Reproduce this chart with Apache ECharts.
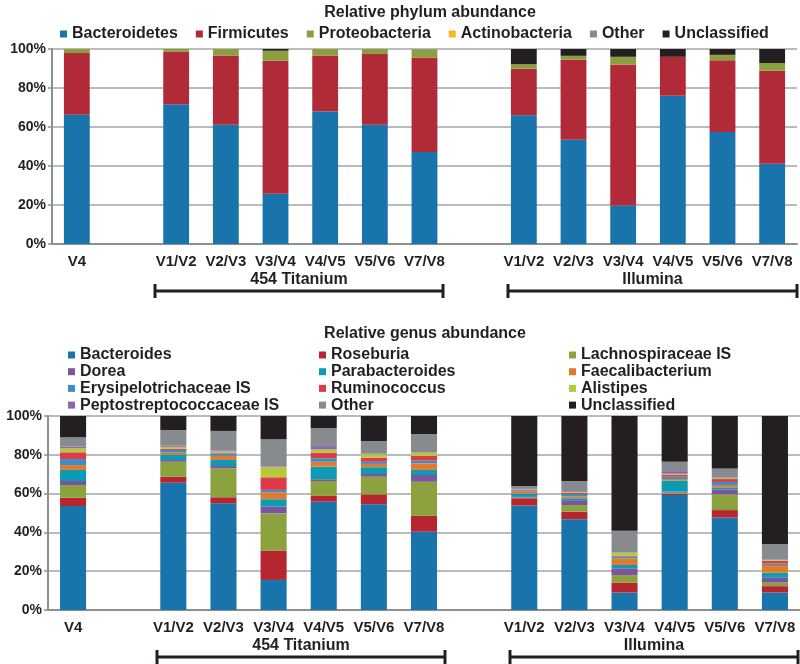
<!DOCTYPE html>
<html>
<head>
<meta charset="utf-8">
<script src="https://cdn.jsdelivr.net/npm/echarts@6/dist/echarts.min.js"></script>
<style>
  html, body { margin: 0; padding: 0; background: #fff; }
  #chart { width: 800px; height: 664px; }
</style>
</head>
<body>
<div id="chart"></div>
<script>
// x slots: V4, gap, 454 Titanium (6), gap, Illumina (6)
var slotLabels = ['V4', '', 'V1/V2', 'V2/V3', 'V3/V4', 'V4/V5', 'V5/V6', 'V7/V8', '',
                  'V1/V2', 'V2/V3', 'V3/V4', 'V4/V5', 'V5/V6', 'V7/V8'];
var gapSlots = [1, 8];
var yTicks = [0, 20, 40, 60, 80, 100];

// phylum (%), 13 samples: V4, Titanium x6, Illumina x6
var phylumNames = ['Bacteroidetes', 'Firmicutes', 'Proteobacteria', 'Actinobacteria', 'Other', 'Unclassified'];
var bacteroidetes  = [66.3, 71.7, 61.2, 25.8, 68.0, 61.2, 47.2, 66.0, 53.4, 19.8, 76.0, 57.4, 41.2];
var firmicutes     = [31.6, 26.8, 35.5, 68.2, 28.7, 36.2, 48.5, 23.9, 41.1, 72.3, 20.0, 36.8, 47.7];
var proteobacteria = [2.1, 1.5, 3.3, 5.1, 3.3, 2.6, 4.0, 2.3, 2.0, 3.9, 0, 2.8, 3.9];
var actinobacteria = [0, 0, 0, 0, 0, 0, 0, 0, 0, 0, 0, 0, 0];
var otherP         = [0, 0, 0, 0, 0, 0, 0.3, 0, 0, 0, 0, 0, 0];
var unclassifiedP  = [0, 0, 0, 0.9, 0, 0, 0, 7.8, 3.5, 4.0, 4.0, 3.0, 7.2];

// genus (%)
var genusNames = ['Bacteroides', 'Roseburia', 'Lachnospiraceae IS', 'Dorea', 'Parabacteroides',
  'Faecalibacterium', 'Erysipelotrichaceae IS', 'Ruminococcus', 'Alistipes',
  'Peptostreptococcaceae IS', 'Other', 'Unclassified'];
var bacteroides  = [53.6, 65.6, 55.0, 15.5, 55.8, 54.5, 40.4, 53.8, 46.8, 9.0, 59.3, 47.6, 9.0];
var roseburia    = [4.3, 3.1, 3.1, 15.1, 3.0, 5.1, 8.1, 3.8, 3.9, 5.1, 0.6, 3.9, 3.3];
var lachno       = [6.5, 7.7, 14.9, 19.2, 7.7, 9.1, 17.6, 0.4, 3.4, 3.9, 0.6, 8.1, 1.8];
var dorea        = [2.1, 0.9, 1.2, 3.5, 0.9, 1.4, 3.5, 0.3, 2.5, 3.5, 0.5, 2.6, 2.5];
var parabact     = [5.7, 2.6, 3.1, 3.8, 6.5, 3.5, 2.6, 1.7, 1.0, 1.7, 5.7, 1.0, 2.6];
var faecali      = [2.5, 1.2, 2.2, 3.6, 2.5, 1.7, 3.4, 1.0, 1.0, 3.4, 0.8, 1.2, 4.0];
var erysipelo    = [3.1, 1.4, 1.2, 1.2, 1.8, 1.1, 1.4, 0.5, 1.2, 0.9, 1.2, 1.6, 0.8];
var ruminococcus = [3.5, 0.6, 0.4, 6.5, 2.9, 2.1, 2.4, 0.4, 0.6, 0.3, 1.0, 1.5, 1.4];
var alistipes    = [2.0, 1.0, 0.6, 5.2, 1.7, 1.8, 1.7, 0.3, 0.5, 1.7, 0.5, 0.4, 0.4];
var pepto        = [0.9, 0.7, 0.4, 0.4, 1.7, 0.3, 0, 0.2, 0.4, 0.2, 1.4, 0.3, 0.3];
var otherG       = [4.8, 7.9, 10.2, 14.0, 9.2, 6.5, 9.6, 1.5, 5.2, 11.2, 4.8, 4.8, 7.9];
var unclassG     = [11.0, 7.3, 7.7, 12.0, 6.3, 12.9, 9.3, 36.1, 33.5, 59.1, 23.6, 27.0, 66.0];

var phylumData = [bacteroidetes, firmicutes, proteobacteria, actinobacteria, otherP, unclassifiedP];
var genusData = [bacteroides, roseburia, lachno, dorea, parabact, faecali, erysipelo,
  ruminococcus, alistipes, pepto, otherG, unclassG];

(function () {
    var txt = '#231f20';
    var axisGray = '#8d8f91';
    var font = 'Liberation Sans, Arial, sans-serif';
    var phylumColors = ['#1874ab', '#b12a37', '#8c9e3e', '#f5b821', '#868b8f', '#231f20'];
    var genusColors = ['#1874ab', '#b5262f', '#8ba23f', '#7a559e', '#0d9ab3', '#e07a2c',
      '#3b8fc6', '#dd3b47', '#b6c93a', '#8a6aad', '#878b8f', '#231f20'];

    // put the 13 samples into the 15 slots
    function toSlots(vals) {
        var out = [], k = 0;
        for (var i = 0; i < slotLabels.length; i++) {
            out.push(gapSlots.indexOf(i) >= 0 ? '-' : vals[k++]);
        }
        return out;
    }

    function xAxis(gridIndex) {
        return {
            type: 'category', gridIndex: gridIndex, data: slotLabels,
            axisLine: { lineStyle: { color: axisGray, width: 2 } },
            axisTick: { interval: 0, length: 5, lineStyle: { color: axisGray, width: 1.5 } },
            axisLabel: { interval: 0, color: txt, fontFamily: font, fontWeight: 'bold', fontSize: 15, margin: 10 }
        };
    }
    function yAxis(gridIndex) {
        return {
            type: 'value', gridIndex: gridIndex, min: yTicks[0], max: yTicks[yTicks.length - 1], interval: 20,
            axisLine: { show: true, lineStyle: { color: axisGray, width: 2 } },
            axisTick: { show: true, length: 4, lineStyle: { color: axisGray, width: 1.5 } },
            splitLine: { lineStyle: { color: '#a3a5a7', width: 1.5 } },
            axisLabel: { formatter: '{value}%', color: txt, fontFamily: font, fontWeight: 'bold', fontSize: 14, margin: 6 }
        };
    }

    var legendText = { color: txt, fontFamily: font, fontWeight: 'bold', fontSize: 16, lineHeight: 16 };
    var legendBase = { icon: 'rect', itemWidth: 7, itemHeight: 7, selectedMode: false, textStyle: legendText };

    var series = [];
    phylumNames.forEach(function (n, i) {
        series.push({
            name: n, type: 'bar', stack: 'phylum', xAxisIndex: 0, yAxisIndex: 0,
            barWidth: '52%', color: phylumColors[i], data: toSlots(phylumData[i])
        });
    });
    genusNames.forEach(function (n, i) {
        series.push({
            name: n, type: 'bar', stack: 'genus', xAxisIndex: 1, yAxisIndex: 1,
            barWidth: '52%', color: genusColors[i], data: toSlots(genusData[i])
        });
    });

    // bracket under a group of bars
    function bracket(x1, x2, y, label) {
        var els = [
            { type: 'line', shape: { x1: x1, y1: y, x2: x2, y2: y }, style: { stroke: txt, lineWidth: 3 } },
            { type: 'line', shape: { x1: x1, y1: y - 7, x2: x1, y2: y + 7 }, style: { stroke: txt, lineWidth: 3 } },
            { type: 'line', shape: { x1: x2, y1: y - 7, x2: x2, y2: y + 7 }, style: { stroke: txt, lineWidth: 3 } },
            { type: 'text', x: (x1 + x2) / 2, y: y - 11, style: {
                text: label, fill: txt, font: 'bold 16px Liberation Sans, Arial, sans-serif',
                textAlign: 'center', textVerticalAlign: 'middle' } }
        ];
        return els;
    }

    var myChart = echarts.init(document.getElementById('chart'));
    var option = {
        animation: false,
        title: [
            { text: 'Relative phylum abundance', left: 425, top: 0, textAlign: 'center',
              textStyle: { color: txt, fontFamily: font, fontWeight: 'bold', fontSize: 16 } },
            { text: 'Relative genus abundance', left: 420, top: 321, textAlign: 'center',
              textStyle: { color: txt, fontFamily: font, fontWeight: 'bold', fontSize: 16 } }
        ],
        legend: [
            Object.assign({ data: phylumNames, left: 55, top: 21, itemGap: 18 }, legendBase),
            Object.assign({ data: [genusNames[0], genusNames[3], genusNames[6], genusNames[9]],
              orient: 'vertical', left: 63, top: 342, itemGap: 0.7 }, legendBase),
            Object.assign({ data: [genusNames[1], genusNames[4], genusNames[7], genusNames[10]],
              orient: 'vertical', left: 314, top: 342, itemGap: 0.7 }, legendBase),
            Object.assign({ data: [genusNames[2], genusNames[5], genusNames[8], genusNames[11]],
              orient: 'vertical', left: 564, top: 342, itemGap: 0.7 }, legendBase)
        ],
        grid: [
            { left: 52, right: 3, top: 49, height: 195 },
            { left: 48, right: 0, top: 416, height: 194 }
        ],
        xAxis: [xAxis(0), xAxis(1)],
        yAxis: [yAxis(0), yAxis(1)],
        series: series,
        graphic: [].concat(
            bracket(155, 443, 291, '454 Titanium'),
            bracket(508, 797, 291, 'Illumina'),
            bracket(157, 445, 657, '454 Titanium'),
            bracket(510, 798, 657, 'Illumina')
        )
    };
    myChart.setOption(option);
})();
</script>
</body>
</html>
